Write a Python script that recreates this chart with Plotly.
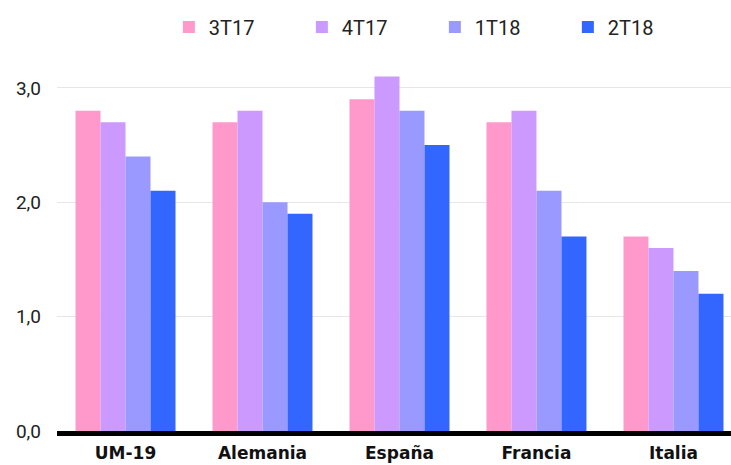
import plotly.graph_objects as go

categories = ["UM-19", "Alemania", "España", "Francia", "Italia"]
series_names = ["3T17", "4T17", "1T18", "2T18"]
v_3T17 = [2.8, 2.7, 2.9, 2.7, 1.7]
v_4T17 = [2.7, 2.8, 3.1, 2.8, 1.6]
v_1T18 = [2.4, 2.0, 2.8, 2.1, 1.4]
v_2T18 = [2.1, 1.9, 2.5, 1.7, 1.2]
colors = ["#FF99CC", "#CC99FF", "#9999FF", "#3366FF"]
y_ticks = [0, 1, 2, 3]

fig = go.Figure()
for name, vals, col in zip(series_names, [v_3T17, v_4T17, v_1T18, v_2T18], colors):
    fig.add_trace(go.Bar(x=categories, y=vals, name=name, marker=dict(color=col, line=dict(width=0))))

fig.update_layout(
    width=731, height=465,
    margin=dict(l=57, r=0, t=65, b=34, autoexpand=False),
    paper_bgcolor="white", plot_bgcolor="white",
    separators=",.",
    barmode="group", bargap=0.27, bargroupgap=0,
    font=dict(family="Roboto, Arial, sans-serif", size=17, color="#222"),
    legend=dict(orientation="h", x=0.231, xref="container", xanchor="left",
                y=0.942, yref="container", yanchor="middle",
                entrywidth=88, entrywidthmode="pixels",
                font=dict(size=20, color="#222"), itemwidth=30),
    xaxis=dict(range=[-0.5, 4.42], showline=True, linecolor="black", linewidth=5,
               ticks="", tickfont=dict(family="DejaVu Sans, Verdana, sans-serif", size=17, color="#111", weight="bold"),
               ticklabelstandoff=3),
    yaxis=dict(range=[0, 3.2], tickvals=y_ticks, tickformat=".1f", showgrid=True,
               gridcolor="#e6e6e6", gridwidth=1, zeroline=False, ticks="",
               ticklabelstandoff=15, tickfont=dict(size=19, color="#222")),
    showlegend=True,
)
fig.write_html("out.html")
